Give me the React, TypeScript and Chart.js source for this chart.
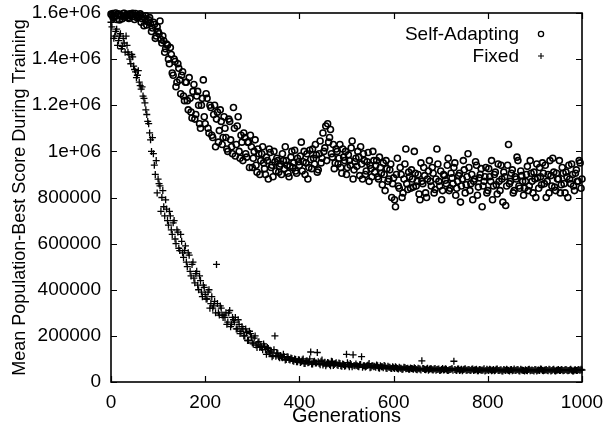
import React, { useEffect, useRef } from "react";
import { Chart, registerables } from "chart.js";

Chart.register(...registerables);

// Two interleaved samplings: A at generations 0,4,8,...,1000 ; B at 2,6,10,...,998
const GEN_STEP = 4;
const B_OFFSET = 2;
const X_TICKS = [0, 200, 400, 600, 800, 1000];
const X_TICK_LABELS = ["0", "200", "400", "600", "800", "1000"];
const Y_TICK_VALUES = [0, 200000, 400000, 600000, 800000, 1000000, 1200000, 1400000, 1600000];
const Y_TICK_LABELS = ["0", "200000", "400000", "600000", "800000", "1e+06", "1.2e+06", "1.4e+06", "1.6e+06"];
const SERIES_NAMES = ["Self-Adapting", "Fixed"];
const X_TITLE = "Generations";
const Y_TITLE = "Mean Population-Best Score During Training";

// values in thousands
const SELF_ADAPTING_A_K = [
  1595, 1598, 1585, 1572, 1597, 1590, 1575, 1599, 1588, 1580,
  1596, 1592, 1585, 1598, 1578, 1590, 1560, 1585, 1575, 1548,
  1570, 1555, 1535, 1550, 1500, 1520, 1565, 1470, 1480, 1445,
  1460, 1380, 1420, 1330, 1390, 1300, 1360, 1250, 1345, 1220,
  1300, 1180, 1230, 1145, 1290, 1160, 1260, 1120, 1200, 1310,
  1120, 1230, 1080, 1190, 1060, 1200, 1140, 1040, 1180, 1030,
  1150, 1060, 1000, 1130, 1020, 1190, 980, 1110, 1000, 1070,
  960, 1060, 975, 1040, 1070, 930, 1000, 940, 1010, 900,
  990, 950, 900, 960, 1010, 930, 890, 955, 970, 910,
  945, 990, 925, 960, 905, 935, 1000, 950, 915, 970,
  940, 1040, 955, 900, 990, 930, 965, 1010, 945, 985,
  920, 1045, 970, 1000, 1110, 1120, 1060, 990, 1030, 950,
  1000, 970, 930, 1010, 960, 900, 985, 940, 1045, 920,
  970, 1000, 895, 945, 990, 900, 955, 870, 925, 1000,
  910, 960, 880, 930, 855, 900, 960, 870, 920, 800,
  885, 760, 970, 840, 900, 820, 945, 860, 910, 840,
  880, 1000, 850, 900, 790, 870, 930, 820, 880, 960,
  850, 905, 835, 1010, 870, 915, 830, 895, 860, 970,
  840, 885, 930, 810, 870, 905, 850, 960, 820, 890,
  930, 860, 790, 880, 940, 845, 900, 760, 870, 930,
  830, 890, 960, 850, 910, 815, 870, 940, 780, 890,
  850, 1030, 870, 920, 830, 880, 960, 840, 895, 810,
  870, 935, 850, 905, 820, 880, 945, 840, 890, 950,
  860, 800, 900, 960, 850, 910, 830, 880, 960, 855,
  905, 820, 890, 940, 860, 900, 830, 920, 870, 950,
  880,
];

const SELF_ADAPTING_B_K = [
  1590, 1580, 1600, 1593, 1570, 1586, 1598, 1582, 1594, 1576,
  1588, 1599, 1572, 1590, 1584, 1596, 1575, 1545, 1588, 1562,
  1580, 1520, 1560, 1490, 1540, 1510, 1485, 1500, 1430, 1465,
  1400, 1450, 1340, 1400, 1280, 1380, 1310, 1330, 1240, 1300,
  1220, 1320, 1170, 1260, 1140, 1240, 1200, 1100, 1230, 1150,
  1250, 1100, 1200, 1070, 1160, 1020, 1170, 1090, 1130, 1060,
  1100, 1010, 1140, 1050, 990, 1100, 1030, 1150, 970, 1040,
  1080, 990, 1040, 930, 1020, 970, 1050, 910, 990, 960,
  1020, 925, 975, 880, 995, 940, 1000, 915, 960, 935,
  900, 960, 1020, 940, 890, 975, 930, 1005, 905, 955,
  980, 915, 1000, 950, 880, 1005, 925, 970, 1030, 910,
  990, 950, 1080, 1015, 960, 1040, 1095, 975, 925, 1010,
  945, 1030, 905, 975, 1000, 930, 960, 1015, 880, 955,
  935, 975, 1020, 880, 960, 915, 995, 940, 890, 960,
  940, 890, 975, 905, 950, 830, 925, 880, 945, 860,
  790, 900, 850, 930, 800, 880, 1010, 835, 890, 920,
  845, 905, 870, 815, 950, 860, 895, 800, 915, 870,
  930, 820, 880, 945, 850, 790, 900, 875, 940, 830,
  905, 860, 950, 840, 895, 780, 880, 920, 855, 990,
  830, 900, 870, 955, 810, 885, 925, 850, 890, 820,
  925, 870, 790, 900, 855, 945, 830, 880, 910, 765,
  940, 860, 905, 820, 890, 975, 850, 915, 870, 840,
  900, 830, 960, 870, 910, 800, 885, 930, 855, 905,
  940, 870, 820, 895, 970, 845, 905, 880, 820, 930,
  860, 910, 800, 880, 945, 850, 905, 870, 960, 840,
];

const FIXED_A_K = [
  1560, 1575, 1500, 1530, 1480, 1510, 1455, 1470, 1500, 1430,
  1400, 1420, 1370, 1345, 1330, 1300, 1270, 1240, 1210, 1160,
  1120, 1050, 1060, 940, 960, 880, 850, 800, 760, 790,
  700, 740, 660, 690, 620, 660, 580, 640, 560, 570,
  520, 560, 480, 510, 450, 470, 420, 460, 390, 420,
  380, 360, 400, 340, 320, 350, 510, 300, 330, 290,
  290, 300, 260, 310, 250, 270, 280, 230, 250, 220,
  230, 200, 215, 180, 210, 170, 190, 160, 170, 150,
  150, 165, 140, 150, 125, 135, 115, 200, 125, 110,
  115, 105, 110, 98, 108, 95, 102, 90, 98, 88,
  95, 88, 100, 80, 92, 85, 130, 78, 90, 82,
  88, 75, 95, 80, 70, 85, 76, 90, 72, 80,
  75, 82, 70, 78, 68, 120, 74, 80, 66, 72,
  78, 68, 75, 110, 70, 65, 72, 80, 64, 70,
  68, 74, 62, 70, 66, 72, 60, 68, 64, 58,
  62, 66, 58, 64, 60, 56, 63, 59, 55, 61,
  57, 62, 54, 60, 56, 92, 58, 53, 60, 55,
  57, 52, 59, 54, 56, 51, 58, 53, 55, 50,
  54, 58, 90, 52, 56, 50, 55, 53, 57, 51,
  54, 50, 56, 52, 55, 49, 53, 51, 57, 50,
  52, 55, 49, 54, 51, 56, 50, 53, 48, 52,
  55, 50, 53, 49, 56, 51, 54, 48, 52, 50,
  53, 49, 55, 51, 50, 54, 48, 52, 56, 50,
  51, 54, 49, 53, 50, 55, 48, 52, 50, 54,
  49, 53, 51, 50, 55, 48, 52, 50, 54, 51,
  52,
];

const FIXED_B_K = [
  1540, 1490, 1520, 1460, 1500, 1445, 1490, 1430, 1460, 1420,
  1380, 1410, 1355, 1320, 1350, 1285, 1280, 1230, 1180, 1130,
  1080, 1000, 990, 900, 820, 860, 740, 830, 720, 750,
  680, 720, 640, 700, 600, 650, 570, 610, 540, 590,
  500, 550, 460, 520, 430, 480, 400, 440, 370, 410,
  360, 390, 320, 370, 330, 300, 340, 290, 320, 280,
  280, 250, 300, 240, 280, 260, 230, 270, 210, 240,
  200, 230, 180, 220, 195, 165, 200, 150, 175, 155,
  140, 155, 120, 145, 130, 110, 140, 112, 125, 105,
  108, 120, 95, 110, 98, 104, 92, 100, 88, 96,
  85, 95, 80, 90, 84, 100, 78, 88, 82, 128,
  80, 90, 74, 86, 78, 82, 70, 88, 76, 84,
  72, 80, 68, 76, 70, 84, 66, 75, 118, 70,
  72, 66, 76, 64, 70, 68, 74, 62, 70, 66,
  64, 70, 60, 66, 62, 68, 58, 64, 60, 66,
  58, 62, 56, 60, 54, 64, 57, 60, 55, 58,
  55, 59, 53, 57, 52, 58, 54, 56, 51, 57,
  53, 56, 51, 55, 50, 54, 52, 57, 50, 53,
  55, 51, 54, 50, 56, 52, 49, 55, 51, 53,
  51, 55, 50, 53, 49, 54, 51, 52, 48, 55,
  50, 53, 51, 49, 55, 50, 52, 48, 54, 50,
  52, 48, 54, 51, 50, 53, 49, 55, 51, 48,
  50, 54, 49, 52, 48, 53, 51, 50, 55, 49,
  52, 50, 55, 48, 53, 49, 51, 54, 50, 52,
  50, 54, 49, 52, 51, 48, 53, 50, 52, 55,
];

const FONT_FAMILY = '"Liberation Sans", Arial, Helvetica, sans-serif';

const toPoints = (a: number[], b: number[]) => [
  ...a.map((v, i) => ({ x: i * GEN_STEP, y: v * 1000 })),
  ...b.map((v, i) => ({ x: i * GEN_STEP + B_OFFSET, y: v * 1000 })),
];

const frameAndLegend = {
  id: "frameAndLegend",
  afterDraw(chart: any) {
    const { ctx, chartArea, scales } = chart;
    const { left, right, top, bottom } = chartArea;
    ctx.save();
    ctx.strokeStyle = "#000";
    ctx.lineWidth = 1.6;
    ctx.strokeRect(left, top, right - left, bottom - top);
    ctx.lineWidth = 1.2;
    const tl = 6;
    ctx.beginPath();
    X_TICKS.forEach((v) => {
      const px = Math.round(scales.x.getPixelForValue(v)) + 0.5;
      ctx.moveTo(px, bottom);
      ctx.lineTo(px, bottom - tl);
      ctx.moveTo(px, top);
      ctx.lineTo(px, top + tl);
    });
    Y_TICK_VALUES.forEach((v) => {
      const py = Math.round(scales.y.getPixelForValue(v)) + 0.5;
      ctx.moveTo(left, py);
      ctx.lineTo(left + tl, py);
      ctx.moveTo(right, py);
      ctx.lineTo(right - tl, py);
    });
    ctx.stroke();

    // legend (text left of the marker, right-aligned)
    ctx.fillStyle = "#000";
    ctx.font = `19px ${FONT_FAMILY}`;
    ctx.textAlign = "right";
    ctx.textBaseline = "alphabetic";
    const tx = right - 63;
    const mx = right - 41;
    ctx.fillText(SERIES_NAMES[0], tx, top + 27);
    ctx.fillText(SERIES_NAMES[1], tx, top + 49);
    ctx.lineWidth = 1.3;
    ctx.beginPath();
    ctx.arc(mx, top + 21, 2.6, 0, Math.PI * 2);
    ctx.stroke();
    ctx.lineWidth = 1.1;
    ctx.beginPath();
    ctx.moveTo(mx - 3, top + 43);
    ctx.lineTo(mx + 3, top + 43);
    ctx.moveTo(mx, top + 40);
    ctx.lineTo(mx, top + 46);
    ctx.stroke();
    ctx.restore();
  },
};

export default function App() {
  const ref = useRef<HTMLCanvasElement>(null);
  useEffect(() => {
    if (!ref.current) return;
    const chart = new Chart(ref.current, {
      type: "scatter",
      data: {
        datasets: [
          {
            label: SERIES_NAMES[0],
            data: toPoints(SELF_ADAPTING_A_K, SELF_ADAPTING_B_K),
            pointStyle: "circle",
            radius: 3,
            borderWidth: 1.6,
            borderColor: "#000",
            backgroundColor: "rgba(0,0,0,0)",
            clip: 6,
          } as any,
          {
            label: SERIES_NAMES[1],
            data: toPoints(FIXED_A_K, FIXED_B_K),
            pointStyle: "cross",
            radius: 3.5,
            borderWidth: 1.3,
            borderColor: "#000",
            backgroundColor: "#000",
            clip: 6,
          } as any,
        ],
      },
      options: {
        animation: false,
        responsive: false,
        events: [],
        layout: { padding: { top: 13, right: 22, left: 0, bottom: 0 } },
        plugins: { legend: { display: false }, tooltip: { enabled: false } },
        scales: {
          x: {
            type: "linear",
            min: 0,
            max: 1000,
            grid: { display: false, drawTicks: false },
            border: { display: false },
            afterFit: (s: any) => {
              s.height = 46;
              s.paddingLeft = 0;
              s.paddingRight = 0;
            },
            afterBuildTicks: (s: any) => { s.ticks = X_TICKS.map((v) => ({ value: v })); },
            ticks: {
              color: "#000",
              font: { size: 19, family: FONT_FAMILY },
              padding: 9,
              maxRotation: 0,
              callback: (v: any) => {
                const i = X_TICKS.indexOf(Number(v));
                return i >= 0 ? X_TICK_LABELS[i] : "";
              },
            },
            title: { display: true, text: X_TITLE, color: "#000", font: { size: 20, family: FONT_FAMILY }, padding: { top: 0, bottom: 0 } },
          },
          y: {
            type: "linear",
            min: 0,
            max: 1600000,
            grid: { display: false, drawTicks: false },
            border: { display: false },
            afterFit: (s: any) => {
              s.width = 111;
              s.paddingTop = 0;
              s.paddingBottom = 0;
            },
            afterBuildTicks: (s: any) => { s.ticks = Y_TICK_VALUES.map((v) => ({ value: v })); },
            ticks: {
              color: "#000",
              font: { size: 19, family: FONT_FAMILY },
              padding: 10,
              callback: (v: any) => {
                const i = Y_TICK_VALUES.indexOf(Number(v));
                return i >= 0 ? Y_TICK_LABELS[i] : "";
              },
            },
            title: { display: true, text: Y_TITLE, color: "#000", font: { size: 18, family: FONT_FAMILY }, padding: { top: 9, bottom: 0 } },
          },
        },
      },
      plugins: [frameAndLegend],
    });
    return () => chart.destroy();
  }, []);
  return (
    <div style={{ position: "fixed", left: 0, top: 0, width: 604, height: 428, background: "#fff" }}>
      <canvas ref={ref} width={604} height={428} />
    </div>
  );
}
